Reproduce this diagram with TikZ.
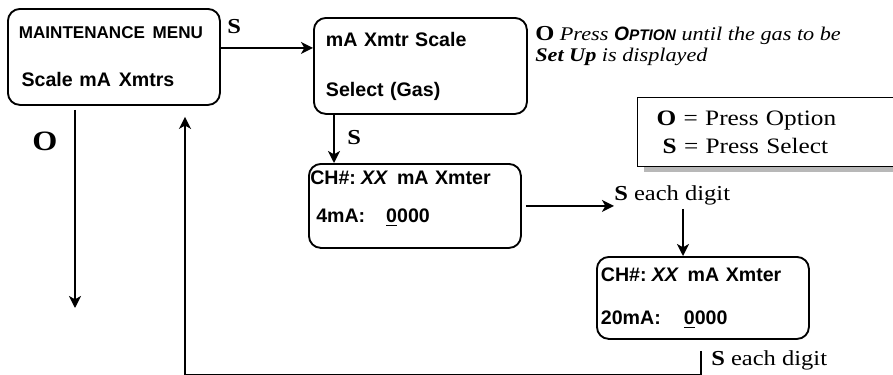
\documentclass[tikz,border=0pt]{standalone}
\usepackage{fontspec}
\setmainfont{Liberation Serif}[FakeStretch=1.15]
\setsansfont{Liberation Sans}
\usetikzlibrary{arrows.meta,positioning,calc,shadows}

\begin{document}
\begin{tikzpicture}[x=0.75pt, y=-0.75pt,
    screen/.style={rectangle, draw, line width=1.4pt, rounded corners=9pt, anchor=north west, align=left, font=\sffamily\bfseries\fontsize{14.7}{17}\selectfont},
    flow/.style={-{Stealth[length=9pt, width=9pt, inset=2.5pt]}, line width=1.4pt},
    key/.style={inner sep=0pt, anchor=base west, font=\fontsize{16}{18}\selectfont}]

    \clip (0,0) rectangle (893,375);

    % the four screens
    \node[screen, minimum width=159pt, minimum height=72pt, inner xsep=8.25pt, text width=142.5pt] (menu) at (7,8)
        {{\fontsize{12.8}{17}\selectfont MAINTENANCE\hspace{0.45em}MENU}\\[19pt]\hspace{2pt}Scale mA\hspace{0.4em}Xmtrs};
    \node[screen, minimum width=159.75pt, minimum height=72pt, inner xsep=9pt, text width=141.75pt] (scale) at (313,17)
        {mA Xmtr Scale\\[20.5pt]Select (Gas)};
    \node[screen, minimum width=159pt, minimum height=63pt, inner xsep=1pt, text width=157pt] (chan4) at (308,163)
        {CH\#:\hspace{0.26em}\textit{XX}\hspace{0.45em}mA Xmter\\[11.5pt]\hspace{4.5pt}\makebox[52.5pt][l]{4mA:}\underline{0}000\rule[-13.5pt]{0pt}{13.5pt}};
    \node[screen, minimum width=159pt, minimum height=61.5pt, inner xsep=3pt, text width=153pt] (chan20) at (596,256)
        {CH\#:\hspace{0.26em}\textit{XX}\hspace{0.45em}mA Xmter\\[15.25pt]\makebox[62.25pt][l]{20mA:}\underline{0}000};

    % key legend
    \node[draw, line width=0.9pt, fill=white, drop shadow={shadow xshift=4.5pt, shadow yshift=-3.75pt, fill=black!28, opacity=1},
        anchor=north west, minimum width=240pt, minimum height=51.75pt, inner xsep=14.25pt, text width=211.5pt, align=left,
        font=\fontsize{16.5}{17}\selectfont] (legend) at (637,97)
        {\textbf{O} = Press Option\\[4pt]\hspace{4.5pt}\textbf{S} = Press Select};

    % labels
    \node[key, font=\bfseries\fontsize{16}{18}\selectfont] (selA) at (227,33) {S};
    \node[key, font=\bfseries\fontsize{16}{18}\selectfont] (selB) at (347,144) {S};
    \node[key, font=\bfseries\fontsize{21}{24}\selectfont] (optA) at (32,150) {O};
    \node[key, font=\fontsize{14.5}{17}\selectfont] (hintA) at (535,40) {{\fontsize{16}{18}\selectfont\textbf{O}} \textit{Press} {\sffamily\bfseries\itshape O\fontsize{11.5}{12}\selectfont PTION} \textit{until the gas to be}};
    \node[key, font=\fontsize{14.5}{17}\selectfont] (hintB) at (535,61) {\textbf{\textit{Set Up}} \textit{is displayed}};
    \node[key] (digitA) at (614,200) {\textbf{S} each digit};
    \node[key] (digitB) at (711,365) {\textbf{S} each digit};

    \coordinate (optend) at (75,308);
    \coordinate (drop) at ([xshift=65.25pt]chan20.north west);

    \draw[flow] ([yshift=6.75pt]menu.east) -- ([yshift=6.75pt]menu.east -| scale.west);
    \draw[flow] ([xshift=15.75pt]scale.south west) -- ([xshift=15.75pt]scale.south west |- chan4.north);
    \draw[flow] ([xshift=3pt]chan4.east) -- (digitA.west |- chan4.east);
    \draw[flow] ([yshift=-3pt]digitA.south -| drop) -- (drop);
    \draw[flow] ([xshift=-1.5pt,yshift=-8.25pt]chan20.south) -- ++(0,-18pt) -| ([xshift=133.5pt,yshift=-8.25pt]menu.south west);
    \draw[flow] ([xshift=51pt,yshift=-3pt]menu.south west) -- (optend);
\end{tikzpicture}
\end{document}
